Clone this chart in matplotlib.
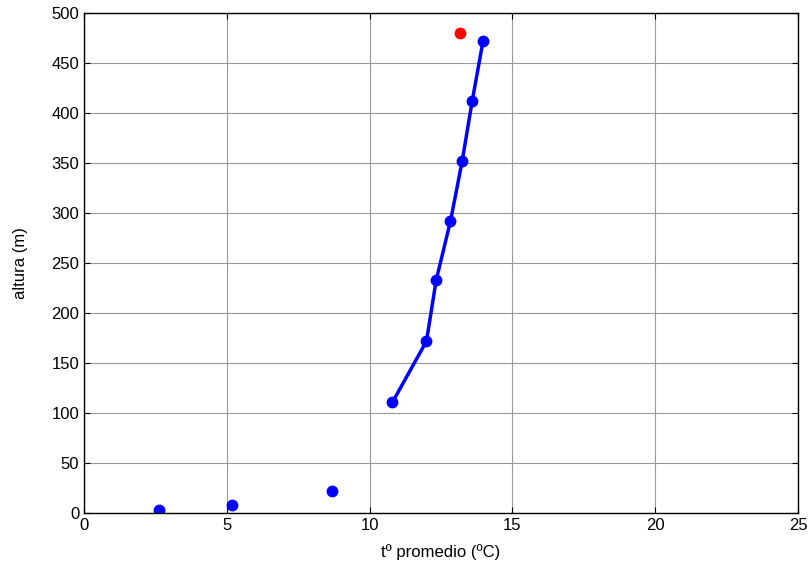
import matplotlib
matplotlib.use("Agg")
import matplotlib.pyplot as plt

plt.rcParams['font.family'] = ['Liberation Sans', 'DejaVu Sans']

# surface points (no line)
t_sup = [2.61, 5.18, 8.70]
h_sup = [3, 8, 22]

# profile points (joined)
t_perfil = [10.80, 11.99, 12.33, 12.83, 13.24, 13.59, 13.97]
h_perfil = [111, 172, 233, 292, 352, 412, 472]

# highlighted point
t_rojo = [13.16]
h_rojo = [480]

fig = plt.figure(figsize=(8.11, 5.76), dpi=100)
ax = fig.add_axes([0.1036, 0.109, 0.8804, 0.868])

ax.plot(t_sup, h_sup, 'o', color='blue', markersize=7.5)
ax.plot(t_perfil, h_perfil, '-o', color='blue', linewidth=2.5, markersize=7.5)
ax.plot(t_rojo, h_rojo, 'o', color='red', markersize=7.5)

ax.set_xlim(0, 25)
ax.set_ylim(0, 500)
ax.set_xticks(range(0, 26, 5))
ax.set_yticks(range(0, 501, 50))
ax.grid(True, color='#999999', linewidth=0.8)
ax.set_axisbelow(True)
ax.tick_params(direction='in', length=4, labelsize=12, top=True, right=True,
               labeltop=False, labelright=False)
for s in ax.spines.values():
    s.set_linewidth(1.0)

ax.set_xlabel('t\u00ba promedio (\u00baC)', fontsize=12, labelpad=8)
ax.set_ylabel('altura (m)', fontsize=12, labelpad=17)

fig.savefig('out.png', dpi=100)
